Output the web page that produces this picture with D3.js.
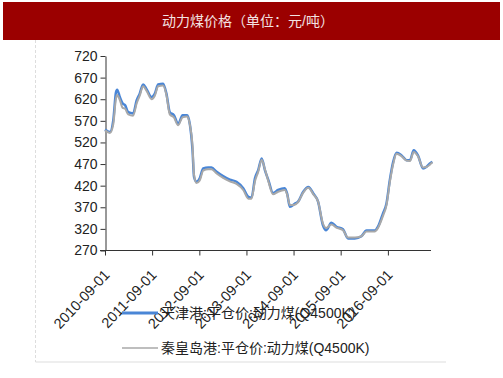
<!DOCTYPE html>
<html>
<head>
<meta charset="utf-8">
<script src="https://cdn.jsdelivr.net/npm/d3@7"></script>
<style>
  body { margin: 0; background: #fff; }
  svg { display: block; font-family: "Liberation Sans", Arial, "Noto Sans CJK SC", sans-serif; }
</style>
</head>
<body>
<div id="chart"></div>
<script>
// dates shared by both series
const dates = [
  "2010-09-01","2010-10-09","2010-11-04","2010-11-25","2010-12-04","2010-12-25","2011-01-16","2011-02-04",
  "2011-02-28","2011-04-07","2011-05-04","2011-05-28","2011-06-23","2011-07-19","2011-08-28","2011-09-22",
  "2011-10-18","2011-11-25","2011-12-21","2012-01-16","2012-02-17","2012-03-21","2012-04-24","2012-05-29",
  "2012-06-19","2012-07-10","2012-07-22","2012-08-10","2012-09-04","2012-10-01","2012-11-09","2012-12-04",
  "2013-01-13","2013-03-04","2013-04-25","2013-06-16","2013-08-07","2013-09-16","2013-10-10","2013-11-06",
  "2013-12-01","2013-12-28","2014-01-22","2014-02-18","2014-03-26","2014-05-04","2014-06-25","2014-07-13",
  "2014-08-04","2014-09-10","2014-10-06","2014-11-15","2014-12-25","2015-02-01","2015-03-10","2015-04-16",
  "2015-05-12","2015-06-21","2015-07-30","2015-09-19","2015-10-28","2015-12-19","2016-02-09","2016-03-19",
  "2016-05-22","2016-06-16","2016-07-25","2016-08-21","2016-09-16","2016-10-12","2016-11-07","2016-12-16",
  "2017-01-24","2017-02-19","2017-03-20","2017-04-22","2017-05-31","2017-06-25","2017-07-21","2017-08-12"
];

// 天津港 平仓价
const tianjin = [
  550, 544, 571, 636, 642, 625, 610, 606,
  590, 587, 617, 633, 654, 644, 625, 633,
  654, 656, 633, 590, 583, 563, 583, 583,
  563, 502, 440, 429, 437, 460, 462, 462,
  452, 442, 434, 429, 414, 394, 392, 437,
  456, 483, 456, 433, 403, 410, 414, 402,
  371, 378, 383, 406, 417, 402, 383, 329,
  317, 334, 325, 319, 298, 298, 303, 316,
  316, 325, 356, 379, 433, 475, 496, 490,
  479, 479, 502, 490, 460, 463, 471, 475
];

// 秦皇岛港 平仓价
const qinhuangdao = [
  548, 542, 562, 622, 630, 618, 600, 598,
  585, 582, 610, 628, 650, 640, 620, 628,
  650, 652, 630, 585, 578, 560, 578, 580,
  562, 512, 445, 426, 432, 455, 458, 458,
  448, 438, 430, 424, 410, 390, 390, 430,
  452, 480, 458, 430, 400, 406, 410, 400,
  375, 376, 382, 404, 415, 400, 383, 333,
  322, 330, 323, 317, 300, 300, 303, 314,
  314, 322, 350, 375, 428, 470, 494, 488,
  478, 477, 498, 488, 462, 463, 468, 474
];

const yTicks = [270, 320, 370, 420, 470, 520, 570, 620, 670, 720];
const xTicks = ["2010-09-01","2011-09-01","2012-09-01","2013-09-01","2014-09-01","2015-09-01","2016-09-01"];
const seriesNames = ["天津港:平仓价:动力煤(Q4500K)", "秦皇岛港:平仓价:动力煤(Q4500K)"];
const title = "动力煤价格（单位：元/吨）";

const W = 503, H = 378;
const parse = d3.timeParse("%Y-%m-%d");

const svg = d3.select("#chart").append("svg")
  .attr("width", W)
  .attr("height", H);

// title bar
svg.append("rect")
  .attr("x", 3).attr("y", 2)
  .attr("width", 497).attr("height", 38)
  .attr("fill", "#9b0000");
svg.append("text")
  .attr("x", 248).attr("y", 26)
  .attr("text-anchor", "middle")
  .attr("font-size", 14)
  .attr("fill", "#f3e3e3")
  .text(title);

// light frame lines
svg.append("line")
  .attr("x1", 35.5).attr("x2", 35.5).attr("y1", 40).attr("y2", 362)
  .attr("stroke", "#ddd").attr("stroke-dasharray", "3,2");
svg.append("line")
  .attr("x1", 35.5).attr("x2", 446).attr("y1", 362).attr("y2", 362)
  .attr("stroke", "#ddd");

// scales
const x = d3.scaleTime()
  .domain([parse("2010-09-01"), parse("2017-09-01")])
  .range([105, 435]);
const y = d3.scaleLinear()
  .domain([270, 720])
  .range([250.5, 56]);

// y axis
const yAxis = svg.append("g")
  .attr("transform", "translate(105.5,0)")
  .call(d3.axisLeft(y).tickValues(yTicks).tickSize(5).tickSizeOuter(0));
yAxis.select(".domain").attr("stroke", "#333");
yAxis.selectAll(".tick line").attr("stroke", "#333");
yAxis.selectAll("text")
  .attr("font-size", 14)
  .attr("fill", "#222")
  .attr("font-family", "Liberation Sans, Arial, sans-serif");

// x axis
const xAxis = svg.append("g")
  .attr("transform", "translate(0,250.5)")
  .call(d3.axisBottom(x).tickValues(xTicks.map(parse)).tickSize(5).tickSizeOuter(0));
xAxis.select(".domain").attr("d", "M100,0H431").attr("stroke", "#333");
xAxis.selectAll(".tick line").attr("stroke", "#333");
xAxis.selectAll("text")
  .text((d, i) => xTicks[i])
  .attr("font-size", 14.5)
  .attr("fill", "#222")
  .attr("font-family", "Liberation Sans, Arial, sans-serif")
  .attr("text-anchor", "end")
  .attr("dy", null)
  .attr("y", 0)
  .attr("transform", "translate(5,25) rotate(-47)");

// lines
const line = d3.line()
  .x((d, i) => x(parse(dates[i])))
  .y(d => y(d))
  .curve(d3.curveMonotoneX);

svg.append("path")
  .datum(tianjin)
  .attr("d", line)
  .attr("fill", "none")
  .attr("stroke", "#4a86d6")
  .attr("stroke-width", 2.5);

svg.append("path")
  .datum(qinhuangdao)
  .attr("d", line)
  .attr("fill", "none")
  .attr("stroke", "#a8a8a8")
  .attr("stroke-width", 2);

// legend
const legend = [
  { name: seriesNames[0], color: "#4a86d6", width: 3, y: 313 },
  { name: seriesNames[1], color: "#a8a8a8", width: 1.5, y: 348 }
];
const lg = svg.append("g");
lg.selectAll("line")
  .data(legend)
  .enter()
  .append("line")
  .attr("x1", 122).attr("x2", 158)
  .attr("y1", d => d.y).attr("y2", d => d.y)
  .attr("stroke", d => d.color)
  .attr("stroke-width", d => d.width);
lg.selectAll("text")
  .data(legend)
  .enter()
  .append("text")
  .attr("x", 161)
  .attr("y", d => d.y + 5)
  .attr("font-size", 14)
  .attr("fill", "#222")
  .text(d => d.name);
</script>
</body>
</html>
